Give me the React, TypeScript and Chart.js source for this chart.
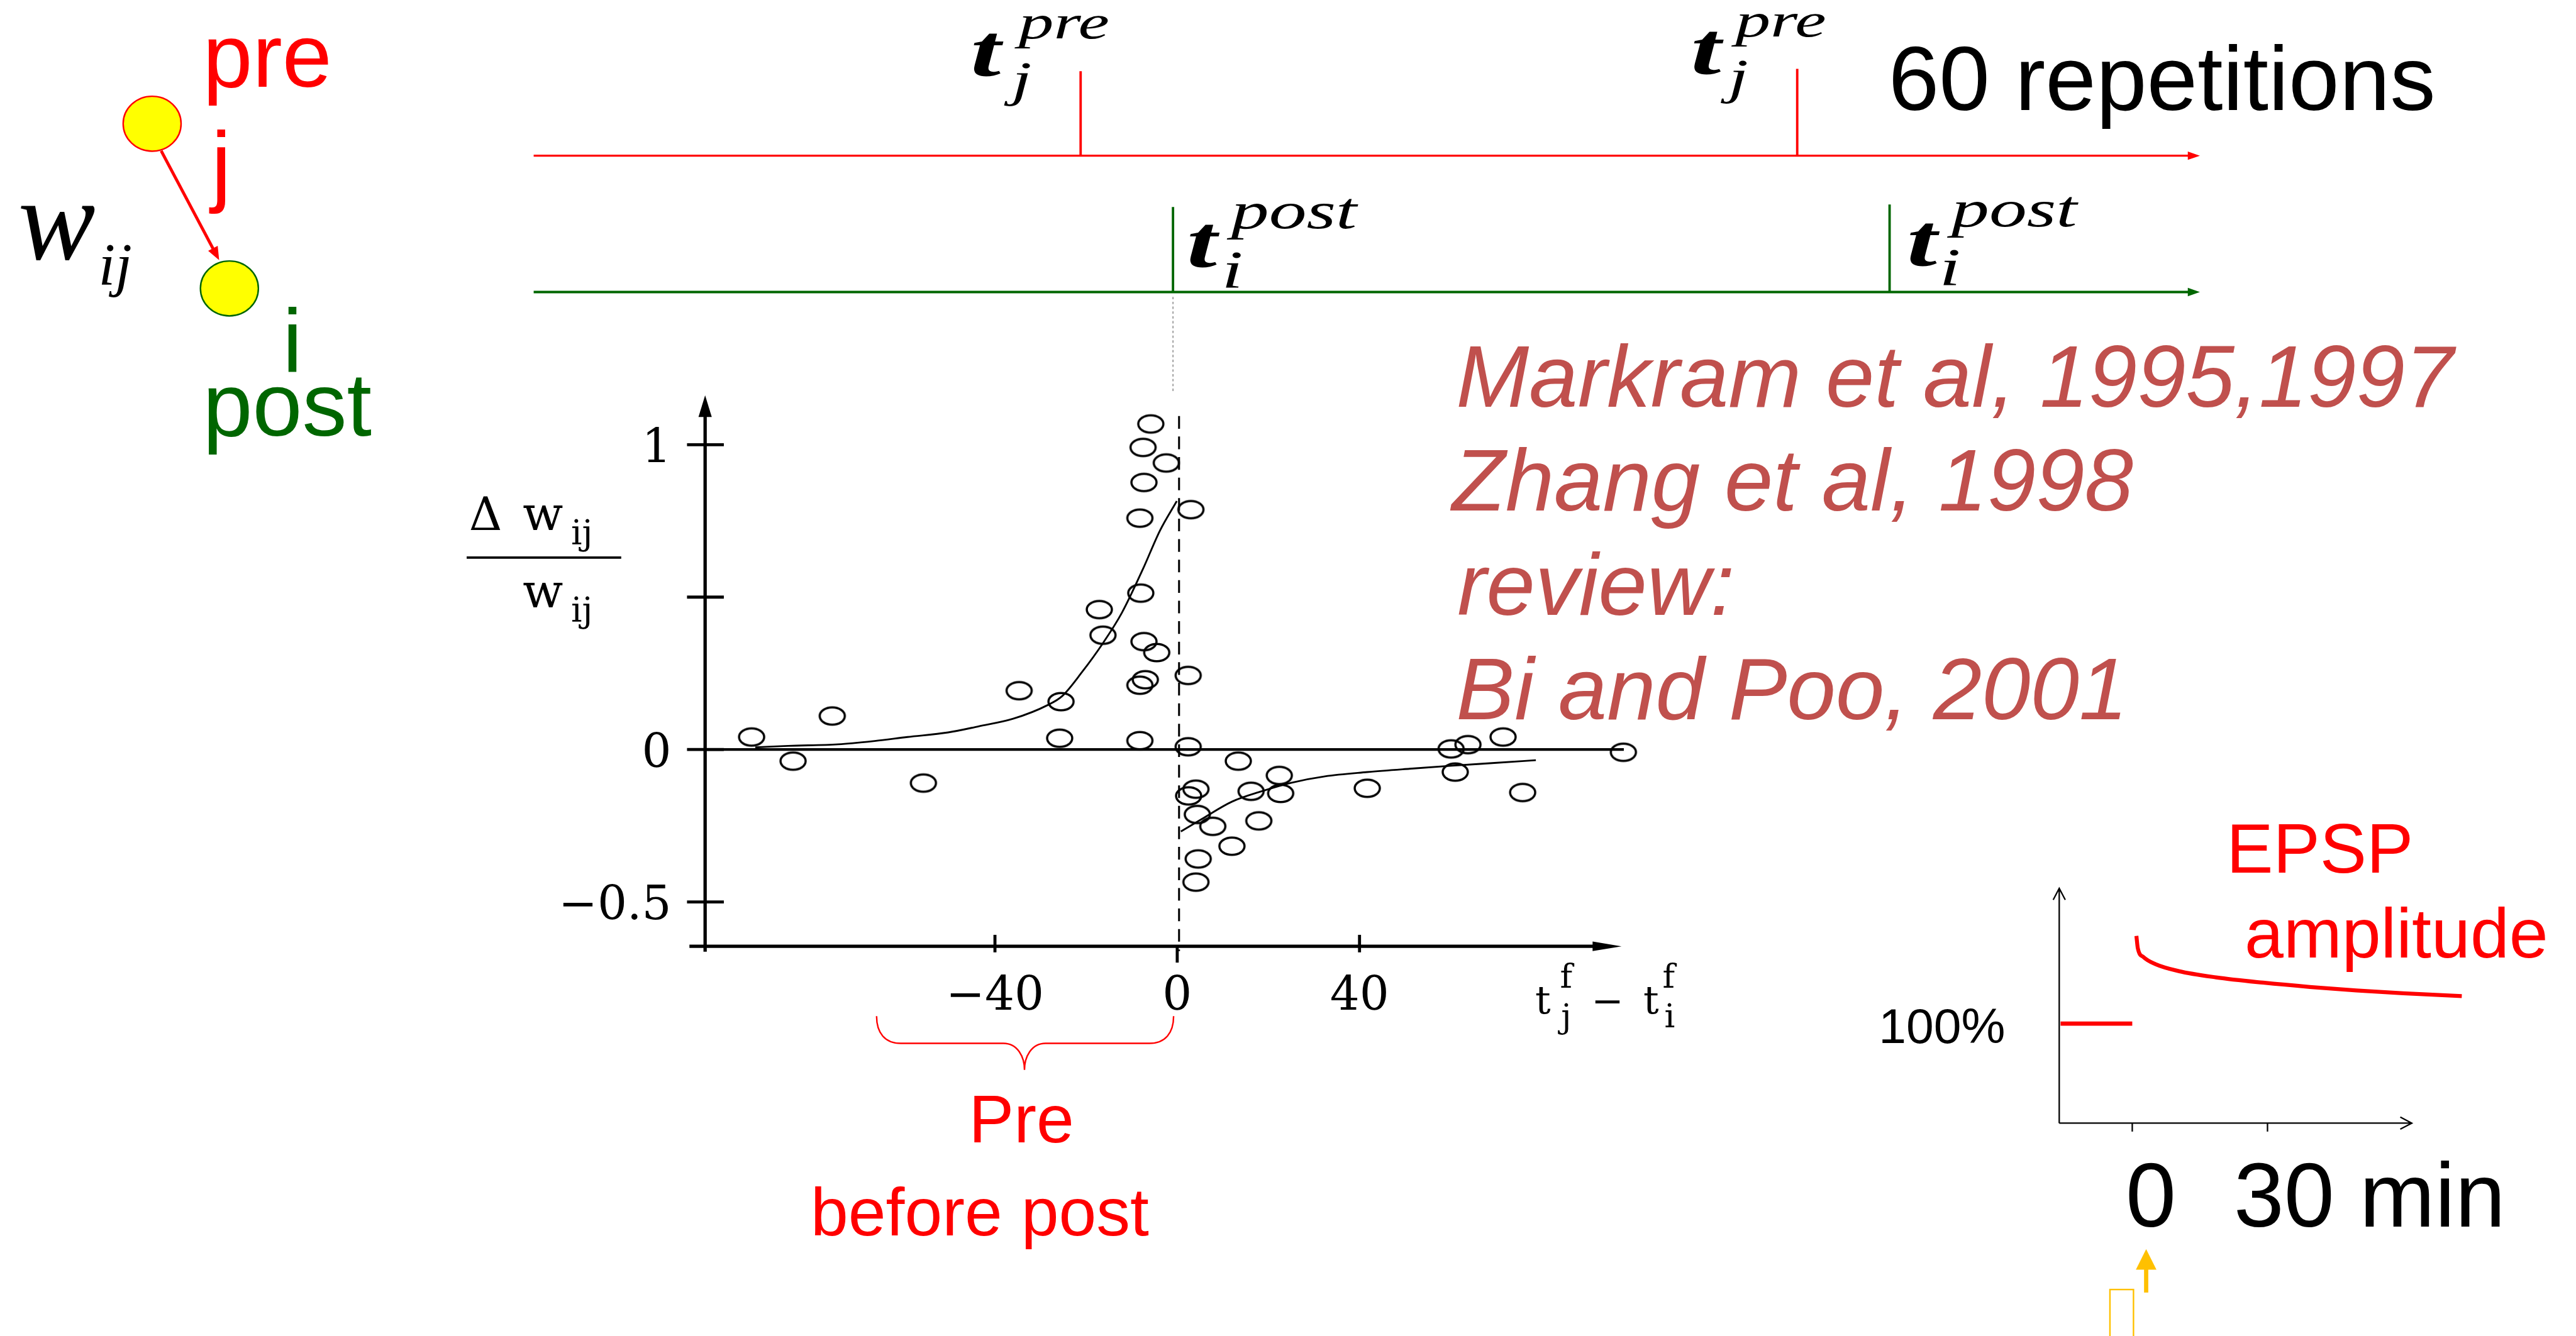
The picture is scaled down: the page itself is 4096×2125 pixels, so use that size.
import React, { useEffect, useRef } from "react";
import { Chart, registerables } from "chart.js";

Chart.register(...registerables);

const W = 4096;
const H = 2125;
const S = W / 4267;

// ---- STDP data (spike-timing difference t_j - t_i in ms, relative weight change) ----
const stdpDt = [-93.4, -84.3, -75.7, -55.7, -34.7, -25.5, -25.8, -17.1, -16.3, -8.0, -8.2, -7.3, -7.5, -5.8, -2.4, 3.0, -7.3, -4.5, -7.0, -8.2, -8.2, 2.4, 2.4, 13.4, 22.4, 4.1, 2.5, 16.2, 22.7, 4.4, 7.8, 17.9, 12.0, 4.6, 4.1, 41.7, 60.1, 63.8, 71.5, 61.0, 75.8, 97.9];
const stdpDw = [0.041, -0.038, 0.11, -0.11, 0.193, 0.157, 0.037, 0.459, 0.375, 0.513, 0.759, 0.876, 0.991, 1.068, 0.94, 0.787, 0.354, 0.318, 0.229, 0.211, 0.029, 0.243, 0.009, -0.038, -0.085, -0.13, -0.152, -0.137, -0.144, -0.213, -0.252, -0.234, -0.317, -0.359, -0.435, -0.127, 0.002, 0.016, 0.041, -0.074, -0.141, -0.009];

const ltpFitDt = [-92.6, -85.4, -74.4, -66.4, -59.2, -50.3, -43.6, -36.0, -28.4, -25.2, -21.0, -16.3, -12.2, -7.5, -3.8, -0.1];
const ltpFitDw = [0.007, 0.012, 0.017, 0.028, 0.041, 0.056, 0.076, 0.101, 0.146, 0.176, 0.252, 0.349, 0.447, 0.593, 0.718, 0.815];
const ltdFitDt = [0.8, 5.5, 12.0, 18.5, 25.0, 32.4, 41.7, 51.0, 60.3, 69.6, 78.7];
const ltdFitDw = [-0.269, -0.227, -0.171, -0.137, -0.109, -0.088, -0.074, -0.063, -0.053, -0.044, -0.035];

const stdpXTicks = [-40, 0, 40];
const stdpXTickLabels = ["\u221240", "0", "40"];
const stdpYTicks = [-0.5, 0, 0.5, 1];
const stdpYTickLabels = ["\u22120.5", "0", "", "1"];

// ---- EPSP amplitude schematic (time in min, amplitude in %) ----
const epspBeforeT = [-15.9, 0];
const epspBeforeV = [100, 100];
const epspAfterT = [0.92, 1.23, 2.48, 5.09, 10.3, 18.6, 29.0, 39.4, 49.7, 60.1, 73.1];
const epspAfterV = [188.1, 175.7, 166.8, 159.8, 152.7, 146.4, 141.1, 136.8, 133.3, 130.5, 127.6];
const epspXTicks = [0, 30];

const zip = (xs: number[], ys: number[]) => xs.map((x, i) => ({ x, y: ys[i] }));

function makeRing(): HTMLCanvasElement {
  const c = document.createElement("canvas");
  const w = Math.round(50 * S);
  const h = Math.round(37 * S);
  c.width = w;
  c.height = h;
  const g = c.getContext("2d")!;
  g.strokeStyle = "#000";
  g.lineWidth = 3.6 * S;
  g.beginPath();
  g.ellipse(w / 2, h / 2, 20.8 * S, 14.4 * S, 0, 0, Math.PI * 2);
  g.stroke();
  return c;
}

const stdpAxesPlugin = {
  id: "stdpAxes",
  beforeDatasetsDraw(chart: any) {
    const { ctx, chartArea, scales } = chart;
    const x = scales.x;
    const y = scales.y;
    const L = chartArea.left;
    const B = chartArea.bottom;
    const T = chartArea.top;
    const R = chartArea.right;
    ctx.save();
    ctx.strokeStyle = "#000";
    ctx.fillStyle = "#000";
    ctx.lineCap = "butt";
    ctx.lineWidth = 5.5 * S;
    ctx.beginPath();
    ctx.moveTo(L, B + 9 * S);
    ctx.lineTo(L, T + 25 * S);
    ctx.stroke();
    ctx.beginPath();
    ctx.moveTo(L, T);
    ctx.lineTo(L - 11 * S, T + 36 * S);
    ctx.lineTo(L + 11 * S, T + 36 * S);
    ctx.closePath();
    ctx.fill();
    ctx.beginPath();
    ctx.moveTo(L - 26 * S, B);
    ctx.lineTo(R - 40 * S, B);
    ctx.stroke();
    ctx.beginPath();
    ctx.moveTo(R, B);
    ctx.lineTo(R - 48 * S, B - 8 * S);
    ctx.lineTo(R - 48 * S, B + 8 * S);
    ctx.closePath();
    ctx.fill();
    ctx.lineWidth = 5 * S;
    stdpYTicks.forEach((v) => {
      const py = y.getPixelForValue(v);
      ctx.beginPath();
      ctx.moveTo(L - 30 * S, py);
      ctx.lineTo(L + 31 * S, py);
      ctx.stroke();
    });
    stdpXTicks.forEach((v) => {
      const px = x.getPixelForValue(v);
      ctx.beginPath();
      if (v === 0) {
        ctx.moveTo(px, B);
        ctx.lineTo(px, B + 27 * S);
      } else {
        ctx.moveTo(px, B - 19 * S);
        ctx.lineTo(px, B + 10 * S);
      }
      ctx.stroke();
    });
    ctx.lineWidth = 4.5 * S;
    ctx.beginPath();
    ctx.moveTo(L, y.getPixelForValue(0));
    ctx.lineTo(x.getPixelForValue(98), y.getPixelForValue(0));
    ctx.stroke();
    ctx.lineWidth = 3.2 * S;
    ctx.setLineDash([21 * S, 13 * S]);
    ctx.beginPath();
    const x0 = x.getPixelForValue(0.4);
    ctx.moveTo(x0, y.getPixelForValue(1.094));
    ctx.lineTo(x0, B + 8 * S);
    ctx.stroke();
    ctx.restore();
  },
};

const epspAxesPlugin = {
  id: "epspAxes",
  beforeDatasetsDraw(chart: any) {
    const { ctx, chartArea, scales } = chart;
    const x = scales.x;
    const L = chartArea.left;
    const B = chartArea.bottom;
    const T = chartArea.top;
    const E = x.getPixelForValue(62);
    ctx.save();
    ctx.strokeStyle = "#000";
    ctx.lineWidth = 2.4 * S;
    ctx.beginPath();
    ctx.moveTo(L, B);
    ctx.lineTo(L, T);
    ctx.moveTo(L - 10 * S, T + 19 * S);
    ctx.lineTo(L, T);
    ctx.lineTo(L + 10 * S, T + 19 * S);
    ctx.moveTo(L, B);
    ctx.lineTo(E, B);
    ctx.moveTo(E - 19 * S, B - 10 * S);
    ctx.lineTo(E, B);
    ctx.lineTo(E - 19 * S, B + 10 * S);
    ctx.stroke();
    epspXTicks.forEach((v) => {
      const px = x.getPixelForValue(v);
      ctx.beginPath();
      ctx.moveTo(px, B);
      ctx.lineTo(px, B + 14 * S);
      ctx.stroke();
    });
    ctx.restore();
  },
};

const serifPlot = "'DejaVu Serif', serif";
const sans = "'Liberation Sans', Arial, Helvetica, sans-serif";
const times = "'Liberation Serif', 'Times New Roman', serif";

export default function App() {
  const stdpRef = useRef<HTMLCanvasElement>(null);
  const epspRef = useRef<HTMLCanvasElement>(null);

  useEffect(() => {
    const ring = makeRing();
    const chartLeft = 1168 * S;
    const chartRight = 2686 * S;
    const chartTop = 655 * S;
    const chartBottom = 1568 * S;
    const yW = 300;
    const xH = 150;
    const stdp = new Chart(stdpRef.current!, {
      type: "scatter",
      data: {
        datasets: [
          {
            label: "measurements",
            data: zip(stdpDt, stdpDw),
            pointStyle: ring as any,
            pointRadius: 12,
            showLine: false,
            clip: false as any,
          },
          {
            label: "LTP fit",
            data: zip(ltpFitDt, ltpFitDw),
            showLine: true,
            pointRadius: 0,
            borderColor: "#000",
            borderWidth: 3 * S,
            tension: 0.3,
            cubicInterpolationMode: "monotone",
            clip: false as any,
          },
          {
            label: "LTD fit",
            data: zip(ltdFitDt, ltdFitDw),
            showLine: true,
            pointRadius: 0,
            borderColor: "#000",
            borderWidth: 3 * S,
            tension: 0.3,
            cubicInterpolationMode: "monotone",
            clip: false as any,
          },
        ],
      },
      options: {
        animation: false,
        responsive: false,
        devicePixelRatio: 1,
        events: [],
        layout: {
          padding: {
            left: chartLeft - yW,
            right: W - chartRight,
            top: chartTop,
            bottom: H - chartBottom - xH,
          },
        },
        plugins: { legend: { display: false }, tooltip: { enabled: false }, title: { display: false } },
        scales: {
          x: {
            type: "linear",
            min: -103.6,
            max: 97.5,
            grid: { display: false, drawTicks: false },
            border: { display: false },
            afterBuildTicks: (s: any) => {
              s.ticks = stdpXTicks.map((v) => ({ value: v }));
            },
            afterFit: (s: any) => {
              s.height = xH;
            },
            ticks: {
              callback: (v: any) => stdpXTickLabels[stdpXTicks.indexOf(Number(v))],
              font: { family: serifPlot, size: 77 * S },
              color: "#000",
              padding: 37,
              maxRotation: 0,
              autoSkip: false,
            },
          },
          y: {
            type: "linear",
            min: -0.6455,
            max: 1.162,
            grid: { display: false, drawTicks: false },
            border: { display: false },
            afterBuildTicks: (s: any) => {
              s.ticks = stdpYTicks.map((v) => ({ value: v }));
            },
            afterFit: (s: any) => {
              s.width = yW;
            },
            ticks: {
              callback: (v: any) => stdpYTickLabels[stdpYTicks.indexOf(Number(v))],
              font: { family: serifPlot, size: 77 * S },
              color: "#000",
              padding: 56 * S,
              labelOffset: 9 * S,
              autoSkip: false,
            },
          },
        },
      } as any,
      plugins: [stdpAxesPlugin],
    });

    const eLeft = 3411 * S;
    const eRight = 4092 * S;
    const eTop = 1472 * S;
    const eBottom = 1861 * S;
    const epsp = new Chart(epspRef.current!, {
      type: "scatter",
      data: {
        datasets: [
          {
            label: "before",
            data: zip(epspBeforeT, epspBeforeV),
            showLine: true,
            pointRadius: 0,
            borderColor: "#FF0000",
            borderWidth: 7 * S,
            borderCapStyle: "butt",
            clip: false as any,
          },
          {
            label: "after",
            data: zip(epspAfterT, epspAfterV),
            showLine: true,
            pointRadius: 0,
            borderColor: "#FF0000",
            borderWidth: 6.5 * S,
            borderCapStyle: "butt",
            cubicInterpolationMode: "monotone",
            tension: 0.4,
            clip: false as any,
          },
        ],
      },
      options: {
        animation: false,
        responsive: false,
        devicePixelRatio: 1,
        events: [],
        layout: { padding: { left: eLeft, right: W - eRight, top: eTop, bottom: H - eBottom } },
        plugins: { legend: { display: false }, tooltip: { enabled: false } },
        scales: {
          x: { type: "linear", min: -16.2, max: 75, display: false },
          y: { type: "linear", min: 0, max: 235.8, display: false },
        },
      } as any,
      plugins: [epspAxesPlugin],
    });

    return () => {
      stdp.destroy();
      epsp.destroy();
    };
  }, []);

  const red = "#FF0000";
  const green = "#006600";
  const cite = "#C0504D";
  const yellow = "#FFC000";
  const stretch = 1.45;

  return (
    <div style={{ position: "fixed", left: 0, top: 0, width: W, height: H, background: "#fff", overflow: "hidden" }}>
      <canvas ref={stdpRef} width={W} height={H} style={{ position: "absolute", left: 0, top: 0, width: W, height: H }} />
      <canvas ref={epspRef} width={W} height={H} style={{ position: "absolute", left: 0, top: 0, width: W, height: H }} />
      <svg
        width={W}
        height={H}
        viewBox="0 0 4267 2214"
        preserveAspectRatio="none"
        style={{ position: "absolute", left: 0, top: 0, pointerEvents: "none" }}
      >
        {/* neurons */}
        <line x1={267} y1={250} x2={356} y2={418} stroke={red} strokeWidth={5} />
        <polygon points="363,431 344.8,415.8 360.6,407.4" fill={red} />
        <ellipse cx={252} cy={205} rx={48} ry={45.5} fill="#FFFF00" stroke={red} strokeWidth={2.5} />
        <ellipse cx={380} cy={478} rx={48} ry={45.5} fill="#FFFF00" stroke={green} strokeWidth={2.5} />
        <g fontFamily={sans} fontSize={148}>
          <text x={336} y={144} fill={red}>pre</text>
          <text x={350} y={323} fill={red}>j</text>
          <text x={468} y={617} fill={green}>i</text>
          <text x={336} y={722} fill={green}>post</text>
        </g>
        <g fontFamily={times} fontStyle="italic">
          <text x={30} y={429} fontSize={192}>w</text>
          <text x={163} y={472} fontSize={100}>ij</text>
        </g>

        {/* spike trains */}
        <line x1={884} y1={258} x2={3628} y2={258} stroke={red} strokeWidth={3.5} />
        <polygon points="3644,258 3624,251 3624,265" fill={red} />
        <line x1={1790} y1={118} x2={1790} y2={258} stroke={red} strokeWidth={4} />
        <line x1={2977} y1={114} x2={2977} y2={258} stroke={red} strokeWidth={4} />
        <line x1={884} y1={484} x2={3628} y2={484} stroke={green} strokeWidth={4} />
        <polygon points="3644,484 3624,477 3624,491" fill={green} />
        <line x1={1943} y1={343} x2={1943} y2={484} stroke={green} strokeWidth={4} />
        <line x1={3130} y1={339} x2={3130} y2={484} stroke={green} strokeWidth={4} />
        <line x1={1943} y1={492} x2={1943} y2={648} stroke="#888" strokeWidth={1.6} strokeDasharray="4 4" />

        <g fontFamily={times} fontStyle="italic" fill="#000">
          <g transform={`translate(1612,0) scale(${stretch},1)`}>
            <text x={-3} y={126} fontSize={124} fontWeight="bold">t</text>
            <text x={52} y={64} fontSize={80}>pre</text>
            <text x={44} y={158} fontSize={82}>j</text>
          </g>
          <g transform={`translate(2805,0) scale(${stretch},1)`}>
            <text x={-3} y={123} fontSize={124} fontWeight="bold">t</text>
            <text x={48} y={60} fontSize={80}>pre</text>
            <text x={40} y={154} fontSize={82}>j</text>
          </g>
          <g transform={`translate(1970,0) scale(${stretch},1)`}>
            <text x={-3} y={443} fontSize={124} fontWeight="bold">t</text>
            <text x={48} y={378} fontSize={86}>post</text>
            <text x={37} y={477} fontSize={88}>i</text>
          </g>
          <g transform={`translate(3163,0) scale(${stretch},1)`}>
            <text x={-3} y={441} fontSize={124} fontWeight="bold">t</text>
            <text x={48} y={375} fontSize={86}>post</text>
            <text x={34} y={473} fontSize={88}>i</text>
          </g>
        </g>
        <text x={3128} y={182} fontFamily={sans} fontSize={151} fill="#000">60 repetitions</text>

        {/* citations */}
        <g fontFamily={sans} fontStyle="italic" fontSize={145} fill={cite}>
          <text x={2412} y={674}>Markram et al, 1995,1997</text>
          <text x={2405} y={846}>Zhang et al, 1998</text>
          <text x={2414} y={1019}>review:</text>
          <text x={2412} y={1192}>Bi and Poo, 2001</text>
        </g>

        {/* STDP axis titles */}
        <g fontFamily={serifPlot} fill="#000">
          <text x={777} y={878} fontSize={76}>{"\u0394"}</text>
          <text x={866} y={878} fontSize={78}>w</text>
          <text x={946} y={902} fontSize={57}>ij</text>
          <line x1={773} y1={924} x2={1029} y2={924} stroke="#000" strokeWidth={4} />
          <text x={866} y={1006} fontSize={78}>w</text>
          <text x={946} y={1030} fontSize={57}>ij</text>

          <text x={2543} y={1679} fontSize={64}>t</text>
          <text x={2584} y={1637} fontSize={55}>f</text>
          <text x={2586} y={1702} fontSize={55}>j</text>
          <text x={2636} y={1681} fontSize={64}>{"\u2212"}</text>
          <text x={2722} y={1679} fontSize={64}>t</text>
          <text x={2754} y={1637} fontSize={55}>f</text>
          <text x={2757} y={1702} fontSize={55}>i</text>
        </g>

        {/* brace + label */}
        <path
          d="M1452,1684 C1452,1712 1466,1729 1492,1729 L1662,1729 C1686,1729 1697,1752 1697,1773 C1697,1752 1708,1729 1732,1729 L1904,1729 C1930,1729 1944,1712 1944,1684"
          fill="none"
          stroke={red}
          strokeWidth={2.5}
        />
        <g fontFamily={sans} fontSize={112} fill={red} textAnchor="middle">
          <text x={1692} y={1893}>Pre</text>
          <text x={1623} y={2047}>before post</text>
        </g>

        {/* EPSP inset texts */}
        <g fontFamily={sans} fill={red} fontSize={116}>
          <text x={3688} y={1446}>EPSP</text>
          <text x={3718} y={1587}>amplitude</text>
        </g>
        <text x={3112} y={1728} fontFamily={sans} fontSize={82} fill="#000">100%</text>
        <g fontFamily={sans} fontSize={150} fill="#000">
          <text x={3521} y={2033}>0</text>
          <text x={3700} y={2033}>30 min</text>
        </g>
        <line x1={3555} y1={2142} x2={3555} y2={2100} stroke={yellow} strokeWidth={7} />
        <polygon points="3555,2070 3538,2104 3572,2104" fill={yellow} />
        <rect x={3495} y={2137} width={39} height={90} fill="none" stroke={yellow} strokeWidth={2.5} />
      </svg>
    </div>
  );
}
